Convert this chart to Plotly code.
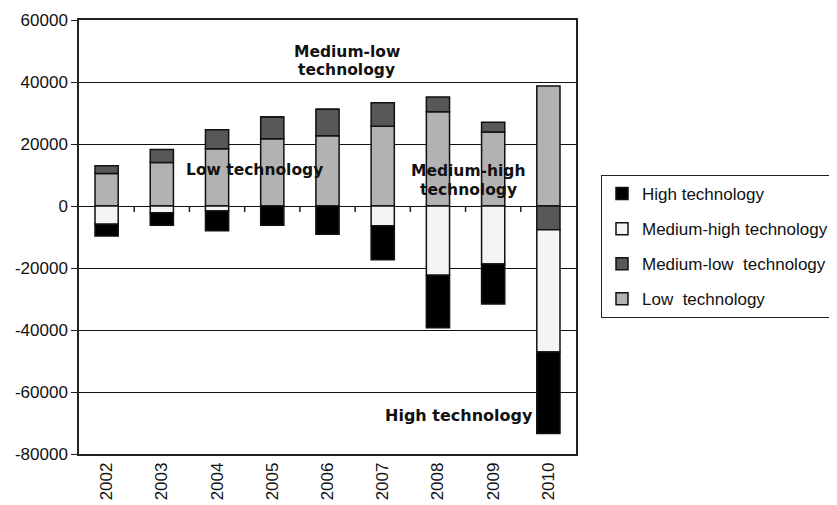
import plotly.graph_objects as go

years = ["2002", "2003", "2004", "2005", "2006", "2007", "2008", "2009", "2010"]
low_tech = [10500, 14000, 18500, 21700, 22700, 25700, 30400, 23900, 38700]
medium_low_tech = [2500, 4200, 6100, 7000, 8500, 7600, 4800, 3100, -7700]
medium_high_tech = [-5900, -2200, -1600, 0, 0, -6400, -22300, -18700, -39400]
high_tech = [-3800, -4000, -6400, -6200, -9100, -10900, -17000, -12900, -26300]

y_ticks = [-80000, -60000, -40000, -20000, 0, 20000, 40000, 60000]
y_tick_labels = ["-80000", "-60000", "-40000", "-20000", "0", "20000", "40000", "60000"]

series = [
    ("Low  technology", low_tech, "#b2b2b2", 4),
    ("Medium-low  technology", medium_low_tech, "#585858", 3),
    ("Medium-high technology", medium_high_tech, "#f3f4f3", 2),
    ("High technology", high_tech, "#000000", 1),
]

fig = go.Figure()
for name, vals, col, rank in series:
    fig.add_trace(go.Bar(
        x=years, y=vals, name=name, legendgroup=name, legendrank=rank,
        marker=dict(color=col, line=dict(color="#111111", width=1.5)),
    ))

OFF = 8  # page body margin
W, H = 837 - OFF, 505 - OFF
L, R, T, B = 79 - OFF, 576 - OFF, 20 - OFF, 454 - OFF
fig.update_layout(
    width=W, height=H,
    margin=dict(l=L, r=W - R, t=T, b=H - B, autoexpand=False),
    barmode="relative",
    bargap=0.58,
    plot_bgcolor="white",
    paper_bgcolor="white",
    font=dict(family="Liberation Sans, Arial, sans-serif", size=17, color="#111111"),
    showlegend=True,
    legend=dict(
        x=(601 - OFF - L) / (R - L), y=(B - (175 - OFF)) / (B - T), xanchor="left", yanchor="top",
        traceorder="grouped", tracegroupgap=10,
        bordercolor="#222222", borderwidth=1, bgcolor="white",
        font=dict(size=17),
    ),
)
fig.update_yaxes(
    range=[-80000, 60000], tickvals=y_ticks, ticktext=y_tick_labels,
    showgrid=True, gridcolor="#111111", gridwidth=1,
    zeroline=True, zerolinecolor="#111111", zerolinewidth=1,
    showline=True, linecolor="#222222", linewidth=1.5, mirror=True,
    ticks="outside", ticklen=6, tickcolor="#222222", automargin=False,
)
fig.update_xaxes(
    type="category", tickangle=-90, range=[-0.5, 8.5],
    showline=True, linecolor="#222222", linewidth=1.5, mirror=True,
    ticks="", showgrid=False, automargin=False,
)

# tick marks on the category axis drawn at zero (between categories)
for i in range(len(years) - 1):
    fig.add_shape(type="line", xref="x", yref="y", x0=i + 0.5, x1=i + 0.5,
                  ysizemode="pixel", yanchor=0, y0=0, y1=-6,
                  line=dict(color="#222222", width=1.5))

def px2paper(px, py):
    px -= OFF
    py -= OFF
    return (px - L) / (R - L), (B - py) / (B - T)

labels = [
    ("Medium-low", 346.5, 51.5),
    ("technology", 346.5, 70),
    ("Low technology", 254.5, 170),
    ("Medium-high", 468, 171.5),
    ("technology", 468.5, 190),
]
for txt, px, py in labels:
    ax, ay = px2paper(px, py)
    fig.add_annotation(x=ax, y=ay, xref="paper", yref="paper", text="<b>" + txt + "</b>",
                       showarrow=False, xanchor="center", yanchor="middle",
                       font=dict(family="DejaVu Sans, sans-serif", size=15.5, color="#111111"))
ax, ay = px2paper(459, 415.5)
fig.add_annotation(x=ax, y=ay, xref="paper", yref="paper", text="<b>High technology</b>",
                   showarrow=False, xanchor="center", yanchor="middle",
                   font=dict(family="DejaVu Sans, sans-serif", size=16, color="#111111"))

fig.write_html("out.html")
